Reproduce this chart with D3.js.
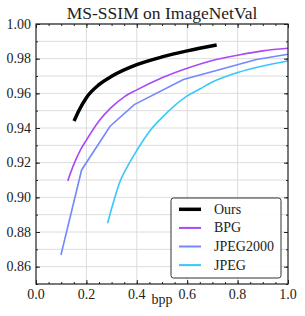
<!DOCTYPE html>
<html>
<head>
<meta charset="utf-8">
<script src="https://cdn.jsdelivr.net/npm/d3@7"></script>
<style>
  body { margin: 0; background: #fff; }
</style>
</head>
<body>
<div id="chart"></div>
<script>
const ours = [[0.151, 0.944], [0.17, 0.950], [0.2, 0.9575], [0.25, 0.965], [0.3, 0.9698],
  [0.4, 0.9765], [0.5, 0.981], [0.6, 0.9845], [0.717, 0.9879]];
const bpg = [[0.126, 0.9095], [0.15, 0.919], [0.175, 0.927], [0.2, 0.933], [0.25, 0.944],
  [0.3, 0.952], [0.35, 0.958], [0.4, 0.962], [0.5, 0.969], [0.6, 0.9745], [0.7, 0.979],
  [0.8, 0.982], [0.9, 0.9845], [1.0, 0.986]];
const jpeg2000 = [[0.099, 0.8667], [0.181, 0.9158], [0.294, 0.941], [0.39, 0.9535],
  [0.585, 0.968], [0.875, 0.9795], [1.0, 0.9825]];
const jpeg = [[0.284, 0.885], [0.313, 0.900], [0.333, 0.909], [0.36, 0.917], [0.4, 0.927],
  [0.45, 0.938], [0.5, 0.946], [0.6, 0.9585], [0.65, 0.9625], [0.7, 0.9665], [0.8, 0.972],
  [0.9, 0.9758], [1.0, 0.9787]];

const names = ["Ours", "BPG", "JPEG2000", "JPEG"];
const colors = ["#000000", "#aa48fa", "#7388ff", "#36c8fb"];
const widths = [3.5, 1.6, 1.6, 1.6];
const xTicks = [0, 0.2, 0.4, 0.6, 0.8, 1.0];
const yTicks = [0.86, 0.88, 0.90, 0.92, 0.94, 0.96, 0.98, 1.00];

const font = "'Liberation Serif', 'DejaVu Serif', serif";
const width = 305, height = 316;
const margin = {top: 24, right: 17, bottom: 32, left: 36};

const svg = d3.select("#chart").append("svg")
    .attr("width", width)
    .attr("height", height)
    .attr("font-family", font);

const x = d3.scaleLinear().domain([0, 1]).range([margin.left, width - margin.right]);
const y = d3.scaleLinear().domain([0.85, 1.0]).range([height - margin.bottom, margin.top]);

// grid
svg.append("g").selectAll("line")
    .data(d3.range(0.86, 1.0, 0.01))
  .enter().append("line")
    .attr("x1", x(0)).attr("x2", x(1))
    .attr("y1", d => y(d)).attr("y2", d => y(d))
    .attr("stroke", "#dcdcdc").attr("stroke-width", 1);

svg.append("g").selectAll("line")
    .data(xTicks.slice(1, -1))
  .enter().append("line")
    .attr("y1", y(0.85)).attr("y2", y(1))
    .attr("x1", d => x(d)).attr("x2", d => x(d))
    .attr("stroke", "#dcdcdc").attr("stroke-width", 1);

// curves
const smooth = d3.line().x(d => x(d[0])).y(d => y(d[1])).curve(d3.curveMonotoneX);
const straight = d3.line().x(d => x(d[0])).y(d => y(d[1]));

[ours, bpg, jpeg2000, jpeg].forEach(function(s, i) {
  svg.append("path")
      .attr("d", i === 2 ? straight(s) : smooth(s))
      .attr("fill", "none")
      .attr("stroke", colors[i])
      .attr("stroke-width", widths[i]);
});

// axes with inward ticks on all sides
function ticks(axis, values, size) {
  return axis.tickValues(values).tickSize(-size).tickFormat("");
}
const xMinor = d3.range(0, 1.001, 0.05), yMinor = d3.range(0.85, 1.0001, 0.01);
const bottom = height - margin.bottom, right = width - margin.right;

svg.append("g").attr("transform", `translate(0,${bottom})`).call(ticks(d3.axisBottom(x), xMinor, 2));
svg.append("g").attr("transform", `translate(0,${bottom})`).call(ticks(d3.axisBottom(x), xTicks, 4));
svg.append("g").attr("transform", `translate(0,${margin.top})`).call(ticks(d3.axisTop(x), xMinor, 2));
svg.append("g").attr("transform", `translate(0,${margin.top})`).call(ticks(d3.axisTop(x), xTicks, 4));
svg.append("g").attr("transform", `translate(${margin.left},0)`).call(ticks(d3.axisLeft(y), yMinor, 2));
svg.append("g").attr("transform", `translate(${margin.left},0)`).call(ticks(d3.axisLeft(y), yTicks, 4));
svg.append("g").attr("transform", `translate(${right},0)`).call(ticks(d3.axisRight(y), yMinor, 2));
svg.append("g").attr("transform", `translate(${right},0)`).call(ticks(d3.axisRight(y), yTicks, 4));
svg.selectAll(".domain").remove();
svg.selectAll(".tick line").attr("stroke", "#222");

svg.append("rect")
    .attr("x", margin.left).attr("y", margin.top)
    .attr("width", right - margin.left).attr("height", bottom - margin.top)
    .attr("fill", "none").attr("stroke", "#222").attr("stroke-width", 1.2);

// tick labels
svg.append("g").selectAll("text")
    .data(xTicks)
  .enter().append("text")
    .attr("x", d => x(d)).attr("y", bottom + 15)
    .attr("text-anchor", "middle")
    .attr("font-family", font).attr("font-size", 14)
    .attr("fill", "#222")
    .text(d3.format(".1f"));

svg.append("g").selectAll("text")
    .data(yTicks)
  .enter().append("text")
    .attr("x", margin.left - 5).attr("y", d => y(d) + 4.5)
    .attr("text-anchor", "end")
    .attr("font-family", font).attr("font-size", 14)
    .attr("fill", "#222")
    .text(d3.format(".2f"));

svg.append("text")
    .attr("x", (margin.left + right) / 2).attr("y", 304)
    .attr("text-anchor", "middle")
    .attr("font-family", font).attr("font-size", 14)
    .attr("fill", "#222")
    .text("bpp");

svg.append("text")
    .attr("x", (margin.left + right) / 2).attr("y", 19)
    .attr("text-anchor", "middle")
    .attr("font-family", font).attr("font-size", 17.5)
    .attr("fill", "#222")
    .text("MS-SSIM on ImageNetVal");

// legend
const legend = svg.append("g").attr("transform", "translate(171,198)");
legend.append("rect")
    .attr("width", 110).attr("height", 80)
    .attr("rx", 2.5)
    .attr("fill", "#fff").attr("fill-opacity", 0.85)
    .attr("stroke", "#333").attr("stroke-width", 1);

const entry = legend.selectAll(".entry")
    .data(names)
  .enter().append("g")
    .attr("transform", (d, i) => `translate(0,${11.3 + i * 18.6})`);
entry.append("line")
    .attr("x1", 8).attr("x2", 30)
    .attr("stroke", (d, i) => colors[i])
    .attr("stroke-width", (d, i) => i === 0 ? 3.5 : 2);
entry.append("text")
    .attr("x", 43).attr("y", 4.5)
    .attr("font-family", font).attr("font-size", 14)
    .attr("fill", "#222")
    .text(d => d);
</script>
</body>
</html>
